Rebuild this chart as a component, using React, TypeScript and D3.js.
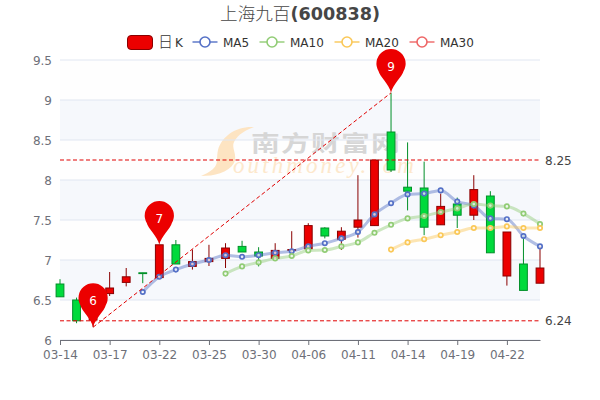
import * as d3 from 'd3';
import { useEffect, useRef } from 'react';

const title = '上海九百';
const code = '(600838)';

const dates = ['03-14','03-15','03-16','03-17','03-18','03-21','03-22','03-23','03-24','03-25','03-28','03-29','03-30','03-31','04-01','04-06','04-07','04-08','04-11','04-12','04-13','04-14','04-15','04-18','04-19','04-20','04-21','04-22','04-25','04-26'];

const opens = [6.70,6.50,6.25,6.58,6.72,6.84,6.78,7.19,6.92,6.98,7.02,7.17,7.10,7.02,7.12,7.14,7.40,7.26,7.41,7.43,8.60,7.91,7.90,7.44,7.70,7.56,7.80,6.80,6.95,6.71];
const closes = [6.54,6.24,6.50,6.65,6.79,6.83,7.19,6.95,6.98,7.02,7.15,7.10,7.05,7.12,7.13,7.43,7.30,7.36,7.50,8.25,8.125,7.86,7.41,7.67,7.56,7.88,7.09,7.35,6.62,6.90];
const lows = [6.54,6.21,6.16,6.55,6.67,6.71,6.78,6.95,6.88,6.925,6.90,7.10,6.92,7.02,7.08,7.14,7.27,7.125,7.28,7.43,8.10,7.62,7.31,7.44,7.40,7.50,7.09,6.68,6.62,6.71];
const highs = [6.76,6.53,6.50,6.85,6.90,6.84,7.19,7.25,7.13,7.19,7.21,7.24,7.16,7.21,7.36,7.46,7.41,7.41,8.06,8.25,9.09,8.47,8.23,7.83,7.78,8.06,7.86,7.35,7.31,7.17];

const n = null;
const ma5 = [n,n,n,n,n,6.60,6.79,6.88,6.95,7.00,7.06,7.04,7.06,7.09,7.11,7.17,7.21,7.27,7.35,7.57,7.71,7.82,7.83,7.87,7.73,7.68,7.52,7.51,7.30,7.17];
const ma10 = [n,n,n,n,n,n,n,n,n,n,6.83,6.92,6.97,7.02,7.05,7.12,7.125,7.17,7.22,7.34,7.44,7.52,7.55,7.60,7.645,7.70,7.68,7.67,7.58,7.45];
const ma20 = [n,n,n,n,n,n,n,n,n,n,n,n,n,n,n,n,n,n,n,n,7.13,7.22,7.26,7.31,7.35,7.40,7.40,7.42,7.40,7.40];

const yTicks = [6, 6.5, 7, 7.5, 8, 8.5, 9, 9.5];
const markLevels = [8.25, 6.24];
const pins = [
  { date: '03-16', value: 6.16 },
  { date: '03-22', value: 7.19 },
  { date: '04-13', value: 9.09 },
];

const legendMA = [
  { name: 'MA5', color: '#5470c6', x: 205 },
  { name: 'MA10', color: '#91cc75', x: 272 },
  { name: 'MA20', color: '#fac858', x: 347 },
  { name: 'MA30', color: '#ee6666', x: 422 },
];

const upColor = '#ec0000';
const upBorder = '#8a0000';
const downColor = '#00da3c';
const downBorder = '#008f28';
const font = '"DejaVu Sans", "Noto Sans CJK SC", sans-serif';

const pinPath = (cx: number, tip: number) => {
  const r = 14.6;
  const cy = tip - 44 + r;
  const dx = r * 0.86;
  const dy = r * 0.52;
  return `M${cx},${tip}C${cx - 1.5},${tip - 8} ${cx - dx + 1},${cy + dy + 5} ${cx - dx},${cy + dy}A${r},${r} 0 1 1 ${cx + dx},${cy + dy}C${cx + dx - 1},${cy + dy + 5} ${cx + 1.5},${tip - 8} ${cx},${tip}Z`;
};

export default function App() {
  const ref = useRef<SVGSVGElement>(null);

  useEffect(() => {
    const svg = d3.select(ref.current);
    svg.selectAll('*').remove();

    const x = d3.scalePoint<string>().domain(dates).range([60, 540]);
    const y = d3.scaleLinear().domain([6, 9.5]).range([340, 60]);
    const X = (i: number) => x(dates[i]) as number;

    // split areas and lines
    const bands = yTicks.slice(0, -1);
    svg
      .append('g')
      .selectAll('rect')
      .data(bands)
      .join('rect')
      .attr('x', 60)
      .attr('width', 480)
      .attr('y', (d) => y(d + 0.5))
      .attr('height', (d) => y(d) - y(d + 0.5))
      .attr('fill', (_d, i) => (i % 2 ? 'rgba(210,219,238,0.2)' : 'rgba(250,250,250,0.2)'));

    // watermark
    const wm = svg.append('g');
    wm.append('path')
      .attr('d', 'M254,127C236,126 222,136 218,150C216,158 219,164 213,169C210,172 205,174 201,176C214,176 228,173 234,163C238,155 231,148 234,142C238,134 246,130 254,127Z')
      .attr('fill', '#fde4c2');
    wm.append('text')
      .attr('transform', 'translate(251,151) scale(1.2,0.92)')
      .attr('font-family', '"Noto Sans CJK SC"')
      .attr('font-weight', 700)
      .attr('font-size', 24)
      .attr('letter-spacing', 1)
      .attr('fill', '#d6d6d6')
      .text('南方财富网');
    wm.append('text')
      .attr('x', 233)
      .attr('y', 173)
      .attr('font-family', '"Liberation Serif"')
      .attr('font-style', 'italic')
      .attr('font-size', 23)
      .attr('letter-spacing', 3.1)
      .attr('fill', '#fde8cc')
      .text('outhmoney.com');

    svg
      .append('g')
      .selectAll('line')
      .data(yTicks)
      .join('line')
      .attr('x1', 60)
      .attr('x2', 540)
      .attr('y1', (d) => y(d))
      .attr('y2', (d) => y(d))
      .attr('stroke', '#e0e6f1');

    // axes
    const xAxis = d3
      .axisBottom(x)
      .tickValues(dates.filter((_d, i) => i % 3 === 0))
      .tickSize(5)
      .tickSizeOuter(0)
      .tickPadding(5.5);
    const gx = svg.append('g').attr('transform', 'translate(0,340)').call(xAxis);
    gx.selectAll('.domain').attr('stroke', '#6e7079');
    gx.selectAll('.tick line').attr('stroke', '#6e7079');
    gx.selectAll('.tick text')
      .attr('fill', '#6e7079')
      .style('font-family', font)
      .style('font-size', '12px');

    svg
      .append('g')
      .selectAll('text')
      .data(yTicks)
      .join('text')
      .attr('x', 52)
      .attr('y', (d) => y(d) + 4.5)
      .attr('text-anchor', 'end')
      .attr('font-family', font)
      .attr('font-size', 12)
      .attr('fill', '#6e7079')
      .text((d) => String(d));

    // candles
    const candle = svg.append('g').selectAll('g').data(dates).join('g');
    const isUp = (i: number) => closes[i] >= opens[i];
    candle
      .append('line')
      .attr('x1', (_d, i) => X(i))
      .attr('x2', (_d, i) => X(i))
      .attr('y1', (_d, i) => y(highs[i]))
      .attr('y2', (_d, i) => y(lows[i]))
      .attr('stroke', (_d, i) => (isUp(i) ? upBorder : downBorder));
    candle
      .append('rect')
      .attr('x', (_d, i) => X(i) - 3.9)
      .attr('width', 7.8)
      .attr('y', (_d, i) => y(Math.max(opens[i], closes[i])))
      .attr('height', (_d, i) => Math.abs(y(opens[i]) - y(closes[i])))
      .attr('fill', (_d, i) => (isUp(i) ? upColor : downColor))
      .attr('stroke', (_d, i) => (isUp(i) ? upBorder : downBorder));

    // moving averages
    const line = d3
      .line<number | null>()
      .defined((d) => d !== null)
      .x((_d, i) => X(i))
      .y((d) => y(d as number))
      .curve(d3.curveMonotoneX);

    [
      { values: ma5, color: '#5470c6' },
      { values: ma10, color: '#91cc75' },
      { values: ma20, color: '#fac858' },
    ].forEach((s) => {
      const g = svg.append('g');
      g.append('path')
        .attr('d', line(s.values))
        .attr('fill', 'none')
        .attr('stroke', s.color)
        .attr('stroke-width', 3)
        .attr('stroke-opacity', 0.45);
      g.selectAll('circle')
        .data(s.values.map((v, i) => ({ v, i })).filter((d) => d.v !== null))
        .join('circle')
        .attr('cx', (d) => X(d.i))
        .attr('cy', (d) => y(d.v as number))
        .attr('r', 2.2)
        .attr('fill', '#fff')
        .attr('fill-opacity', 0.7)
        .attr('stroke', s.color)
        .attr('stroke-width', 1.7);
    });

    // mark lines
    const marks = svg.append('g');
    markLevels.forEach((v) => {
      marks
        .append('line')
        .attr('x1', 60)
        .attr('x2', 540)
        .attr('y1', y(v))
        .attr('y2', y(v))
        .attr('stroke', '#e00000')
        .attr('stroke-dasharray', '4 2.5');
      marks
        .append('text')
        .attr('x', 545)
        .attr('y', y(v) + 4.5)
        .attr('font-family', font)
        .attr('font-size', 12)
        .attr('fill', '#444')
        .text(v.toFixed(2));
    });
    marks
      .append('line')
      .attr('x1', x(pins[0].date) as number)
      .attr('y1', y(pins[0].value))
      .attr('x2', x(pins[2].date) as number)
      .attr('y2', y(pins[2].value))
      .attr('stroke', '#e00000')
      .attr('stroke-dasharray', '4 2.5');

    // pins
    const pin = svg.append('g').selectAll('g').data(pins).join('g');
    pin
      .append('path')
      .attr('d', (d) => pinPath(x(d.date) as number, y(d.value)))
      .attr('fill', '#ec0000');
    pin
      .append('text')
      .attr('x', (d) => x(d.date) as number)
      .attr('y', (d) => y(d.value) - 22)
      .attr('text-anchor', 'middle')
      .attr('font-family', font)
      .attr('font-size', 12)
      .attr('fill', '#fff')
      .text((d) => String(Math.round(d.value)));

    // title
    const t = svg
      .append('text')
      .attr('x', 300)
      .attr('y', 19.5)
      .attr('text-anchor', 'middle')
      .attr('font-family', font)
      .attr('font-size', 17.6)
      .attr('fill', '#464646');
    t.append('tspan').attr('font-family', '"Noto Sans CJK SC"').attr('font-weight', 300).text(title);
    t.append('tspan').attr('font-weight', 700).text(code);

    // legend
    const legend = svg.append('g');
    legend
      .append('rect')
      .attr('x', 127.5)
      .attr('y', 35.5)
      .attr('width', 25)
      .attr('height', 14)
      .attr('rx', 3.5)
      .attr('fill', upColor)
      .attr('stroke', upBorder);
    const lk = legend
      .append('text')
      .attr('x', 158)
      .attr('y', 47)
      .attr('font-family', font)
      .attr('font-size', 12)
      .attr('fill', '#333');
    lk.append('tspan').attr('font-family', '"Noto Sans CJK SC"').attr('font-size', 15).attr('font-weight', 300).text('日');
    lk.append('tspan').attr('dx', 2).text('K');
    legendMA.forEach((m) => {
      const g = legend.append('g').attr('transform', `translate(${m.x},42)`);
      g.append('line').attr('x1', -12.5).attr('x2', 12.5).attr('stroke', m.color).attr('stroke-width', 2).attr('stroke-opacity', 0.7);
      g.append('circle').attr('r', 5).attr('fill', '#fff').attr('stroke', m.color).attr('stroke-width', 1.6);
      g.append('text')
        .attr('x', 18)
        .attr('y', 4.5)
        .attr('font-family', font)
        .attr('font-size', 12)
        .attr('fill', '#333')
        .text(m.name);
    });
  }, []);

  return <svg ref={ref} width={600} height={400} style={{ position: 'absolute', left: 0, top: 0, background: '#fff' }} />;
}
